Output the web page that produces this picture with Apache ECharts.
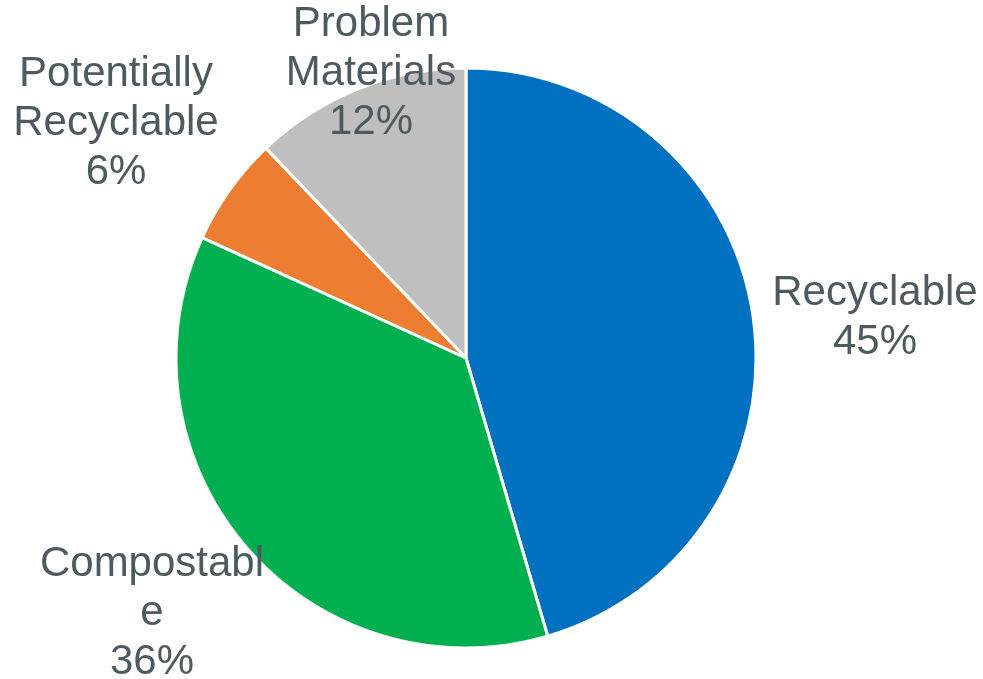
<!DOCTYPE html>
<html>
<head>
<meta charset="utf-8">
<script src="https://cdn.jsdelivr.net/npm/echarts@6/dist/echarts.min.js"></script>
<style>
  html, body { margin: 0; padding: 0; background: #ffffff; }
  #chart { width: 983px; height: 679px; }
</style>
</head>
<body>
<div id="chart"></div>
<script>
// Waste composition by category (percent of total)
const categories = ['Recyclable', 'Compostable', 'Potentially Recyclable', 'Problem Materials'];
const shares = [45, 36, 6, 12];
// How each category name is wrapped in its label
const labelNames = ['Recyclable', 'Compostabl\ne', 'Potentially\nRecyclable', 'Problem\nMaterials'];
const sliceColors = ['#0070C0', '#00B050', '#ED7D31', '#BFBFBF'];

// Label anchor points (centre of each text block)
const labelAnchors = [[875, 318], [152, 613], [116, 123], [371, 73]];

const chart = echarts.init(document.getElementById('chart'), null, { renderer: 'canvas' });

chart.setOption({
  backgroundColor: '#ffffff',
  animation: false,
  series: [{
    type: 'pie',
    center: [466, 358],
    radius: 290,
    startAngle: 90,
    clockwise: true,
    avoidLabelOverlap: false,
    data: categories.map((name, i) => ({
      name: name,
      value: shares[i],
      itemStyle: { color: sliceColors[i] }
    })),
    itemStyle: { borderColor: '#ffffff', borderWidth: 3 },
    label: {
      show: true,
      position: 'outside',
      formatter: p => labelNames[p.dataIndex] + '\n' + shares[p.dataIndex] + '%',
      fontFamily: 'Liberation Sans, Arial, sans-serif',
      fontSize: 42,
      lineHeight: 49,
      color: '#4D5B61',
      align: 'center'
    },
    labelLine: { show: false },
    labelLayout: p => ({
      x: labelAnchors[p.dataIndex][0],
      y: labelAnchors[p.dataIndex][1],
      align: 'center',
      verticalAlign: 'middle'
    }),
    emphasis: { disabled: true }
  }]
});
</script>
</body>
</html>
